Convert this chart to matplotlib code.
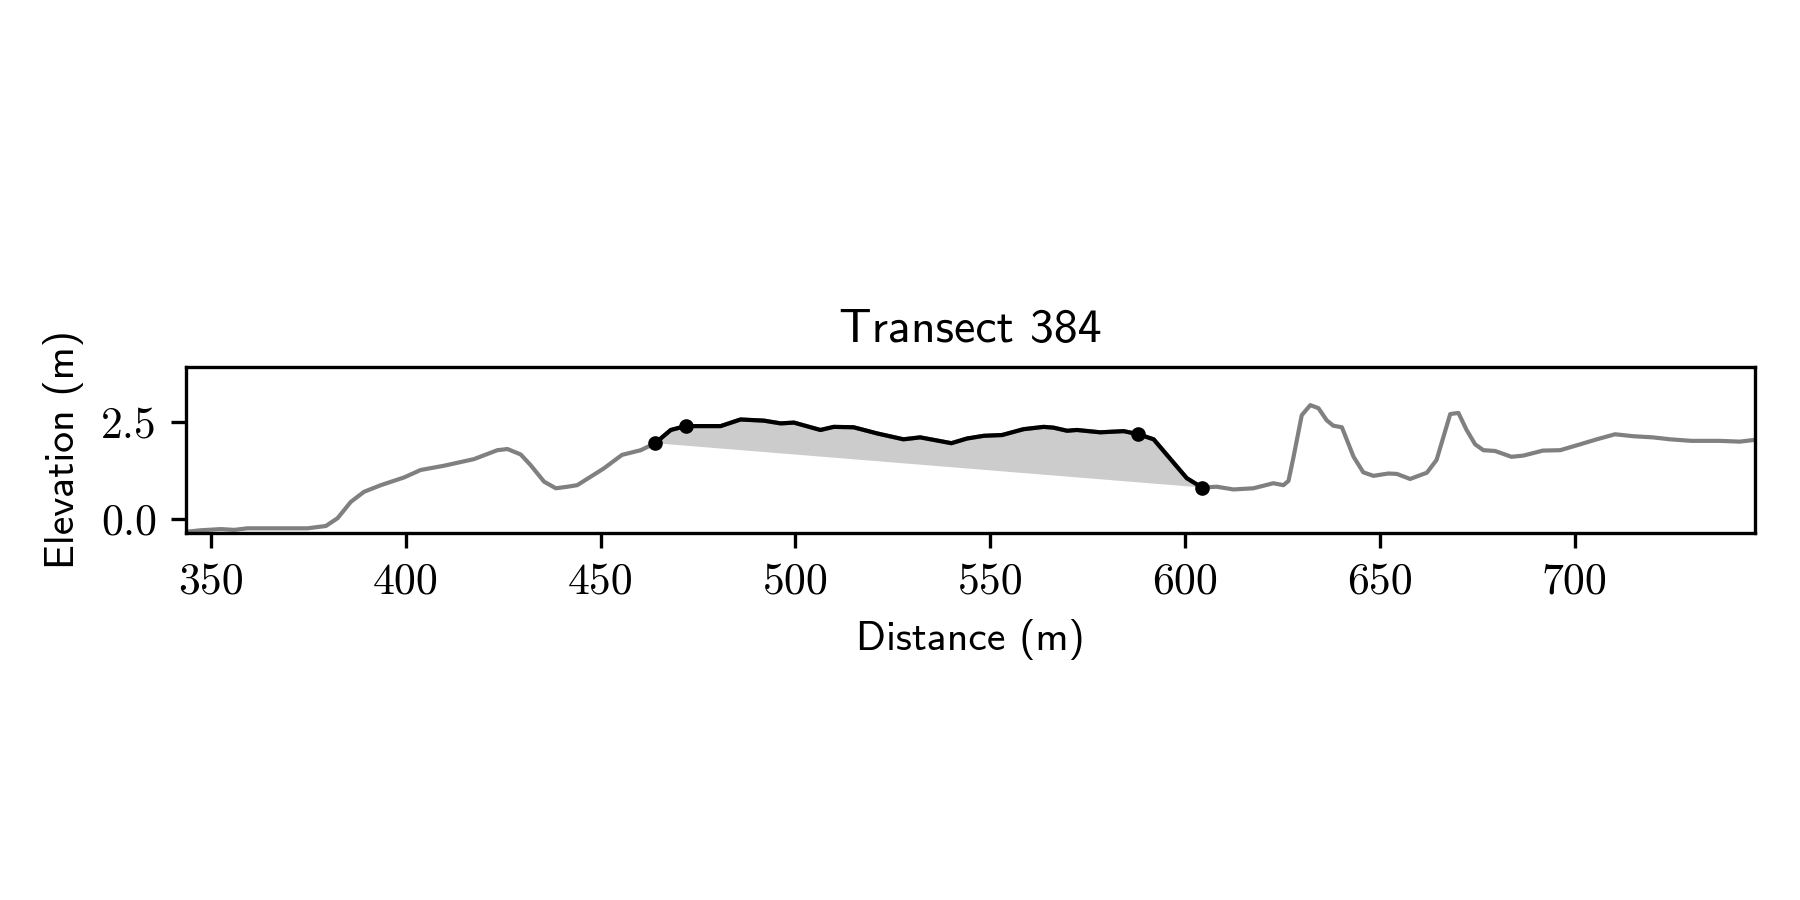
import numpy as np
import matplotlib
matplotlib.use("Agg")
import matplotlib.pyplot as plt

# profile (distance in m, elevation in m)
distance = [343.6, 347.4, 352.6, 356.0, 359.4, 374.8, 379.5, 382.5, 385.9, 389.3,
            393.6, 399.6, 403.8, 409.8, 417.5, 423.5, 426.1, 429.5, 432.0, 435.5,
            438.5, 441.5, 444.0, 450.8, 455.5, 460.3, 464.0, 468.0, 471.8, 480.8,
            485.9, 491.9, 496.2, 499.6, 506.4, 509.8, 514.9, 521.0, 527.7, 532.0,
            540.0, 544.0, 548.3, 553.0, 558.5, 563.7, 566.2, 569.7, 572.2, 578.2,
            584.2, 588.0, 591.9, 595.3, 600.4, 604.3, 608.1, 612.4, 617.5, 622.6,
            625.2, 626.5, 627.8, 629.9, 632.1, 634.2, 636.3, 638.0, 640.2, 643.2,
            645.7, 648.3, 652.1, 654.3, 657.7, 662.0, 664.5, 668.0, 670.1, 672.2,
            674.4, 676.5, 679.5, 683.7, 686.7, 691.8, 696.2, 701.3, 705.6, 710.3,
            714.9, 720.0, 724.4, 729.9, 737.2, 742.3, 745.7]
elevation = [-0.33, -0.29, -0.26, -0.28, -0.24, -0.24, -0.18, 0.02, 0.44, 0.70,
             0.87, 1.07, 1.26, 1.37, 1.54, 1.77, 1.80, 1.66, 1.39, 0.96,
             0.79, 0.83, 0.87, 1.30, 1.65, 1.77, 1.95, 2.29, 2.39, 2.39,
             2.56, 2.53, 2.46, 2.48, 2.29, 2.37, 2.36, 2.20, 2.05, 2.10,
             1.95, 2.07, 2.14, 2.16, 2.31, 2.37, 2.35, 2.27, 2.29, 2.23,
             2.26, 2.18, 2.05, 1.65, 1.05, 0.81, 0.83, 0.76, 0.79, 0.92,
             0.87, 0.98, 1.60, 2.67, 2.93, 2.85, 2.54, 2.40, 2.36, 1.60,
             1.20, 1.11, 1.17, 1.16, 1.03, 1.19, 1.52, 2.70, 2.73, 2.29,
             1.92, 1.77, 1.75, 1.60, 1.63, 1.76, 1.77, 1.92, 2.05, 2.18,
             2.13, 2.10, 2.05, 2.01, 2.01, 1.99, 2.03]

# feature points (distance) marked with dots
key_points = [464.0, 471.8, 588.0, 604.3]

x_ticks = [350, 400, 450, 500, 550, 600, 650, 700]
y_ticks = [0.0, 2.5]

x = np.array(distance)
z = np.array(elevation)
idx = [int(np.argmin(np.abs(x - p))) for p in key_points]
i0, i1 = idx[0], idx[-1]

fig = plt.figure(figsize=(6, 3), dpi=300)
ax = fig.add_axes([0.1033, 0.4078, 0.8717, 0.1844])

ax.plot(x, z, color="0.5", lw=1.0, zorder=2)
# polygon closes back to start -> straight line between the outer points
ax.fill(x[i0:i1 + 1], z[i0:i1 + 1], color="0.8", lw=0, zorder=1)
ax.plot(x[i0:i1 + 1], z[i0:i1 + 1], color="k", lw=1.0, zorder=3)
ax.plot(x[idx], z[idx], "o", color="k", ms=2.5, zorder=4)

ax.set_xlim(343.6, 746.2)
ax.set_ylim(-0.36, 3.91)
ax.set_xticks(x_ticks)
ax.set_xticklabels([str(t) for t in x_ticks])
ax.set_yticks(y_ticks)
ax.set_yticklabels([f"{t:.1f}" for t in y_ticks])
ax.tick_params(labelsize=10.5, labelfontfamily="cmr10")

ax.set_title("Transect 384", fontsize=11.5, family="cmss10")
ax.set_xlabel("Distance (m)", fontsize=10, family="cmss10")
ax.set_ylabel("Elevation (m)", fontsize=10, family="cmss10")

fig.savefig("out.png", dpi=300)
plt.close(fig)
